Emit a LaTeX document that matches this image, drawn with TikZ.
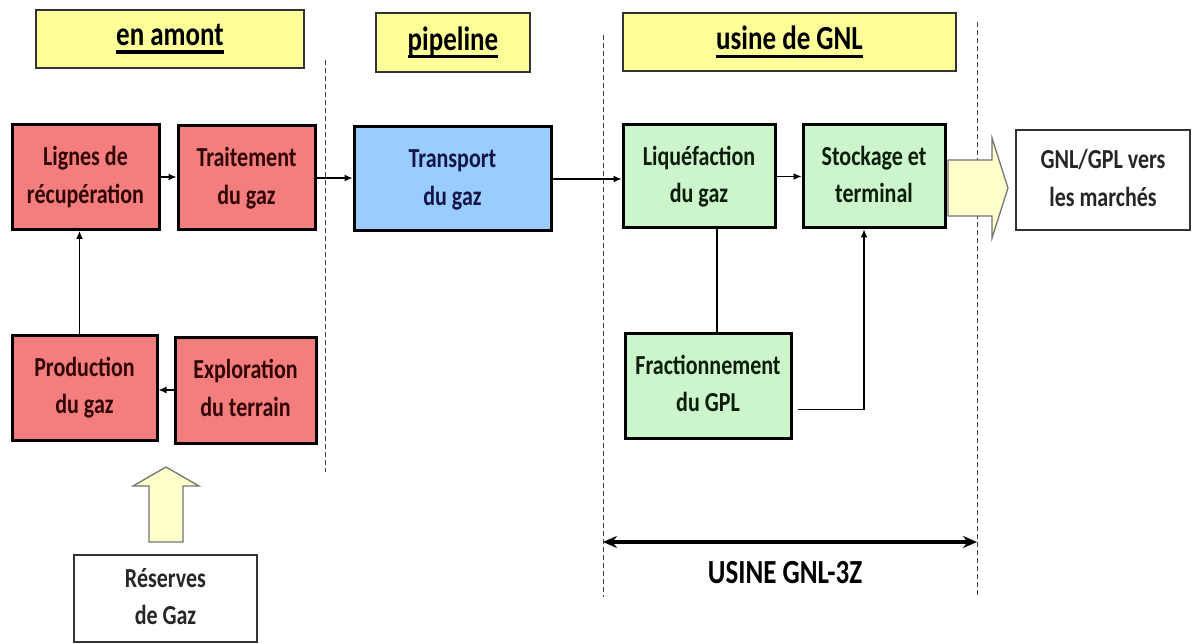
\documentclass[tikz,border=0pt]{standalone}
\usepackage{fontspec}
\setmainfont{Carlito}
\usepackage{graphicx}
\usetikzlibrary{calc}
\usetikzlibrary{arrows.meta}

\definecolor{boxred}{RGB}{244,125,125}
\definecolor{boxblue}{RGB}{153,204,255}
\definecolor{boxgreen}{RGB}{204,245,204}
\definecolor{headyellow}{RGB}{255,255,153}
\definecolor{arrowyellow}{RGB}{255,255,204}
\definecolor{redtext}{RGB}{50,5,5}
\definecolor{bluetext}{RGB}{20,20,70}
\definecolor{greentext}{RGB}{10,30,10}

\newcommand{\talltext}[1]{\scalebox{1}[1.25]{\begin{tabular}{@{}c@{}}#1\end{tabular}}}
\newcommand{\headtext}[1]{\scalebox{1}[1.25]{\setbox0=\hbox{#1}\rlap{\copy0}\raisebox{-6.5pt}{\rule{\wd0}{2.6pt}}}}

\tikzset{
  procbox/.style={draw=black,line width=3pt,inner sep=0pt,font=\bfseries\fontsize{22}{30}\selectfont},
  redbox/.style={procbox,fill=boxred,text=redtext},
  bluebox/.style={procbox,fill=boxblue,text=bluetext},
  greenbox/.style={procbox,fill=boxgreen,text=greentext},
  whitebox/.style={draw=black!80,line width=1.3pt,fill=white,inner sep=0pt,text=black!85,font=\bfseries\fontsize{22}{30}\selectfont},
  headbox/.style={draw=black!80,line width=1.3pt,fill=headyellow,inner sep=0pt,font=\bfseries\fontsize{27}{32}\selectfont},
  flow/.style={line width=1.2pt,-{Latex[length=8pt,width=7pt]}},
  link/.style={line width=1.2pt},
  sepline/.style={line width=1pt,black!75,dash pattern=on 5pt off 3pt},
  blockarrow/.style={draw=black!55,line width=1.3pt,fill=arrowyellow,line join=miter},
}

\begin{document}
\begin{tikzpicture}[x=1pt,y=-1pt]
    \useasboundingbox (0,0) rectangle (1198,644);

    \node[headbox,minimum width=268pt,minimum height=58pt] (amont) at (170,39) {\headtext{en amont}};
    \node[headbox,minimum width=154pt,minimum height=59pt] (pipe) at (453,42.5) {\headtext{pipeline}};
    \node[headbox,minimum width=333pt,minimum height=58pt] (usine) at (789.5,42) {\headtext{usine de GNL}};

    \draw[sepline] (325,60) -- (325,472);
    \draw[sepline] (603,35) -- (603,597);
    \draw[sepline] (977,22) -- (977,597);

    \node[redbox,minimum width=147pt,minimum height=105pt] (lignes) at (85.5,177) {\talltext{Lignes de\\récupération}};
    \node[redbox,minimum width=137pt,minimum height=104pt] (traitement) at (246.5,178) {\talltext{Traitement\\du gaz}};
    \node[bluebox,minimum width=197pt,minimum height=104pt] (transport) at (452.5,179) {\talltext{Transport\\du gaz}};
    \node[greenbox,minimum width=152pt,minimum height=103pt] (liquef) at (699,176.5) {\talltext{Liquéfaction\\du gaz}};
    \node[greenbox,minimum width=142pt,minimum height=103pt] (stockage) at (874,176.5) {\talltext{Stockage et\\terminal}};
    \node[whitebox,minimum width=174pt,minimum height=100pt] (marches) at (1103,180) {\talltext{GNL/GPL vers\\les marchés}};
    \node[redbox,minimum width=145pt,minimum height=105pt] (production) at (84.5,387.5) {\talltext{Production\\du gaz}};
    \node[redbox,minimum width=141pt,minimum height=106pt] (exploration) at (245.5,390) {\talltext{Exploration\\du terrain}};
    \node[greenbox,minimum width=166pt,minimum height=105pt] (fraction) at (708,385.5) {\talltext{Fractionnement\\du GPL}};
    \node[whitebox,minimum width=183pt,minimum height=87pt] (reserves) at (165.5,598.5) {\talltext{Réserves\\de Gaz}};

    \draw[flow] (lignes.east) -- (lignes.east -| traitement.west);
    \draw[flow] (traitement.east) -- (traitement.east -| transport.west);
    \draw[flow] (transport.east) -- (transport.east -| liquef.west);
    \draw[flow] (liquef.east) -- (liquef.east -| stockage.west);
    \draw[flow] ([xshift=-5pt]production.north) -- ([xshift=-5pt]production.north |- lignes.south);
    \draw[flow] (exploration.west) -- (exploration.west -| production.east);
    \draw[link] ([xshift=9pt]fraction.north) -- ([xshift=9pt]fraction.north |- liquef.south);
    \draw[flow] ([xshift=5pt,yshift=-24pt]fraction.east) -| ([xshift=-10pt]stockage.south);

    \draw[blockarrow] (948,160) -- (992,160) -- (992,138) -- (1008,188) -- (992,238) -- (992,216) -- (948,216) -- cycle;
    \draw[blockarrow] (149,542) -- (149,486) -- (133,486) -- (166,467) -- (199,486) -- (183,486) -- (183,542) -- cycle;

    \coordinate (gl) at (603,542);
    \coordinate (gr) at (977,542);
    \draw[line width=3.5pt,{Stealth[length=14pt,width=12pt]}-{Stealth[length=14pt,width=12pt]}] (gl) -- (gr);
    \node[font=\bfseries\fontsize{27}{32}\selectfont] (gnltag) at (785,573) {\scalebox{1}[1.25]{USINE GNL-3Z}};
\end{tikzpicture}
\end{document}
